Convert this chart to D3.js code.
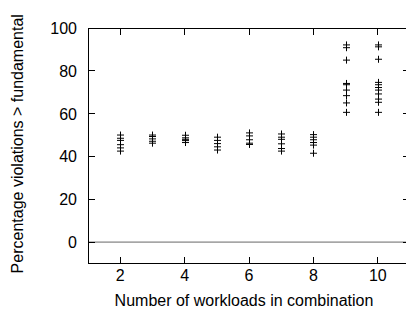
<!DOCTYPE html>
<html><head><meta charset="utf-8">
<script src="https://cdn.jsdelivr.net/npm/d3@7"></script>
<style>body{margin:0;background:#fff}svg{display:block}text{font-family:"Liberation Sans",Arial,sans-serif;font-size:16px;fill:#000}</style>
</head><body><svg id="c" width="406" height="322"></svg>
<script>
const workloads = [2,3,4,5,6,7,8,9,10];
const col2  = [50, 48.5, 47.5, 45.5, 44, 42.5];
const col3  = [50, 49.3, 48.2, 47.1, 46.2];
const col4  = [49.9, 48.7, 47.4, 46.5, 48];
const col5  = [49, 47.5, 46, 44.5, 43];
const col6  = [51, 49.6, 47.8, 46.2, 45.6];
const col7  = [50.5, 49, 48, 45.9, 43.7, 42.5];
const col8  = [50.2, 49, 47.8, 46.5, 45.3, 41.5];
const col9  = [92.1, 90.8, 85, 74.1, 73.5, 71, 68.4, 65, 60.6];
const col10 = [92.1, 91.2, 85.4, 74.6, 73.5, 72.2, 71, 69.2, 66.8, 65.3, 60.6];
const columns = [col2,col3,col4,col5,col6,col7,col8,col9,col10];
const xTicks = [2,4,6,8,10];
const yTicks = [0,20,40,60,80,100];
const xLabel = "Number of workloads in combination";
const yLabel = "Percentage violations > fundamental";

const svg = d3.select("#c");
const L=88, R=410, T=28, B=263.5;
const x = d3.scaleLinear().domain([1,11]).range([L,R]);
const y = d3.scaleLinear().domain([-10,100]).range([B,T]);

svg.append("line").attr("x1",L).attr("x2",R).attr("y1",y(0)).attr("y2",y(0))
  .attr("stroke","#666").attr("stroke-width",1);

const tl = 7;
const g = svg.append("g").attr("stroke","#000").attr("stroke-width",1).attr("shape-rendering","crispEdges");
xTicks.forEach(v=>{
  g.append("line").attr("x1",x(v)).attr("x2",x(v)).attr("y1",B).attr("y2",B-tl);
  g.append("line").attr("x1",x(v)).attr("x2",x(v)).attr("y1",T).attr("y2",T+tl);
});
yTicks.forEach(v=>{
  g.append("line").attr("x1",L).attr("x2",L+tl).attr("y1",y(v)).attr("y2",y(v));
  g.append("line").attr("x1",R).attr("x2",R-tl).attr("y1",y(v)).attr("y2",y(v));
});
g.append("rect").attr("x",L).attr("y",T).attr("width",R-L).attr("height",B-T).attr("fill","none");

xTicks.forEach(v=>svg.append("text").attr("x",x(v)).attr("y",281).attr("text-anchor","middle").text(v));
yTicks.forEach(v=>svg.append("text").attr("x",77).attr("y",y(v)+6).attr("text-anchor","end").text(v));

svg.append("text").attr("x",244).attr("y",306).attr("text-anchor","middle").text(xLabel);
svg.append("text").attr("transform",`translate(23,${(T+B)/2-2}) rotate(-90)`).attr("text-anchor","middle").text(yLabel);

const pts = [];
columns.forEach((c,i)=>c.forEach(v=>pts.push([workloads[i],v])));
const s = 3.5;
svg.append("g").attr("stroke","#000").attr("stroke-width",1).selectAll("path").data(pts).join("path")
  .attr("d",d=>{const px=Math.round(x(d[0]))+0.5, py=y(d[1]);return `M${px-s},${py}H${px+s}M${px},${py-s}V${py+s}`;});
</script></body></html>
